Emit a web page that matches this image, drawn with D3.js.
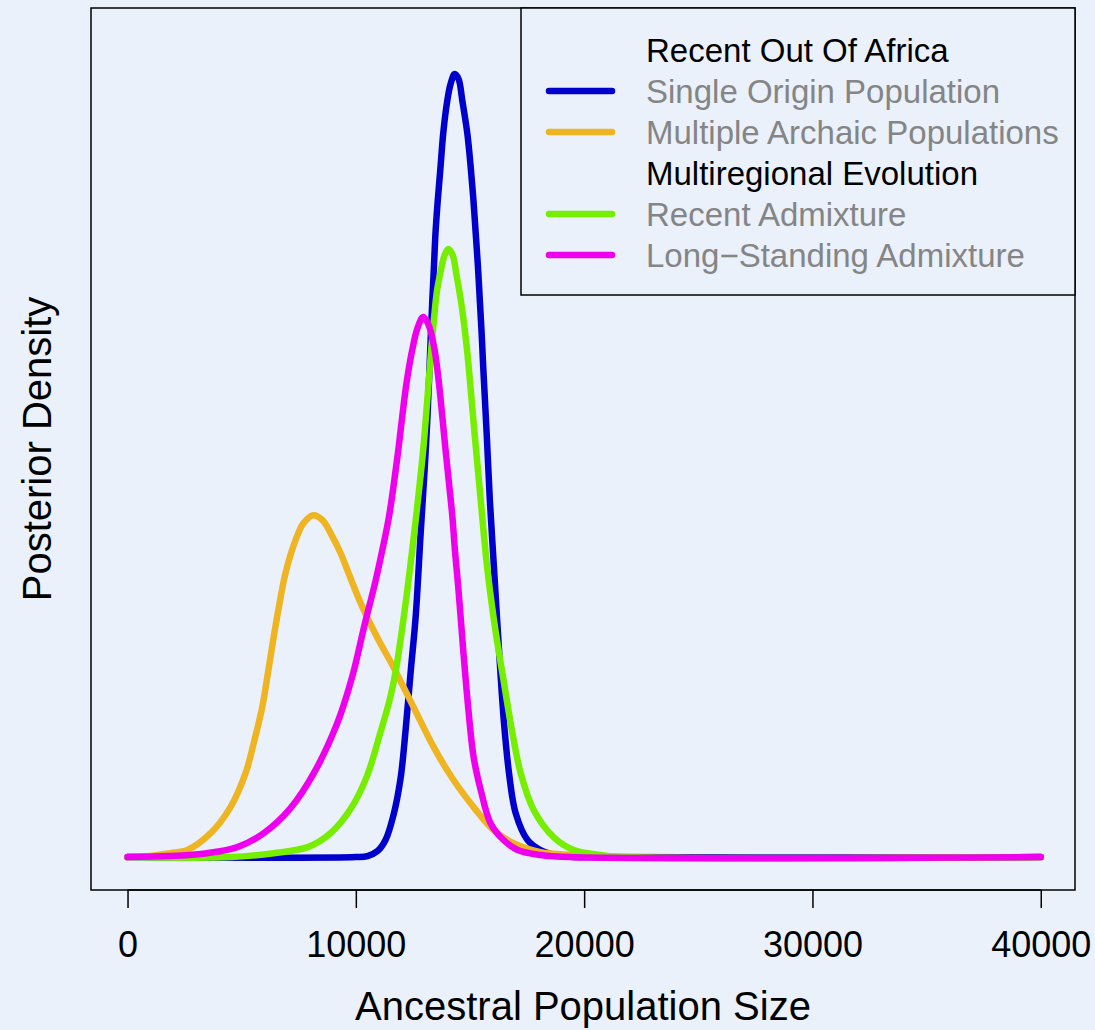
<!DOCTYPE html>
<html>

<head>
    <meta charset="utf-8">
    <script src="https://d3js.org/d3.v7.min.js"></script>
    <style>
        body { margin: 0; background: #eaf1fa; }
        text { font-family: "Liberation Sans", Arial, Helvetica, sans-serif; }
    </style>
</head>

<body>
</body>

<script>
    // posterior density curves, density values in units of 1e-4
    let singleOrigin = [[0,0],[10000,0],[10510,0.004],[10950,0.023],[11300,0.065],[11650,0.16],[11960,0.3],
        [12180,0.483],[12400,0.703],[12620,0.913],[12840,1.232],[13020,1.483],[13140,1.681],[13250,1.909],
        [13350,2.118],[13420,2.243],[13490,2.373],[13590,2.498],[13710,2.624],[13830,2.753],[14010,2.878],
        [14150,2.939],[14330,2.977],[14500,2.958],[14660,2.878],[14880,2.753],[15030,2.624],[15150,2.498],
        [15250,2.373],[15350,2.243],[15430,2.118],[15510,1.992],[15580,1.863],[15730,1.612],[15870,1.357],
        [16030,1.129],[16190,0.901],[16340,0.692],[16490,0.51],[16710,0.319],[17000,0.167],[17520,0.065],
        [18090,0.027],[18970,0.004],[20720,0],[40000,0]];

    let multipleArchaic = [[0,0],[1010,0.004],[1880,0.015],[2620,0.027],[3640,0.091],[4510,0.19],[5170,0.319],
        [5560,0.445],[5900,0.57],[6150,0.7],[6380,0.825],[6630,0.951],[6920,1.08],[7360,1.205],[7710,1.27],
        [8140,1.3],[8540,1.281],[8940,1.224],[9330,1.156],[9680,1.08],[10250,0.958],[10950,0.833],
        [11650,0.722],[12530,0.57],[13410,0.418],[14280,0.293],[15160,0.19],[16030,0.103],[16910,0.053],
        [18090,0.019],[19540,0.008],[21160,0],[40000,0]];

    let recentAdmixture = [[0,0],[4510,0],[6400,0.015],[7890,0.038],[8890,0.091],[9770,0.183],[10470,0.304],
        [11080,0.475],[11480,0.597],[11740,0.703],[12100,0.913],[12470,1.167],[12720,1.357],[12950,1.548],
        [13130,1.738],[13300,1.928],[13430,2.053],[13560,2.156],[13710,2.224],[13890,2.289],[14050,2.312],
        [14240,2.289],[14410,2.213],[14650,2.087],[14870,1.928],[15200,1.612],[15470,1.357],[15750,1.103],
        [16030,0.913],[16250,0.787],[16470,0.673],[16780,0.51],[17220,0.319],[17790,0.179],[18660,0.076],
        [19540,0.027],[20720,0.008],[21600,0],[40000,0]];

    let longStanding = [[0,0],[1880,0.004],[3490,0.015],[4810,0.038],[5970,0.091],[7140,0.186],[8160,0.319],
        [9190,0.51],[9860,0.692],[10380,0.882],[10820,1.034],[11160,1.167],[11450,1.293],[11670,1.422],
        [11860,1.548],[12030,1.673],[12220,1.802],[12470,1.928],[12700,2.011],[12950,2.053],[13190,2.023],
        [13450,1.928],[13640,1.802],[13790,1.673],[13930,1.548],[14080,1.422],[14230,1.293],[14340,1.167],
        [14470,1.042],[14590,0.913],[14740,0.749],[14920,0.57],[15160,0.38],[15470,0.255],[15900,0.129],
        [16470,0.065],[17090,0.027],[18090,0.008],[19410,0],[40000,0]];

    let xTicks = [0, 10000, 20000, 30000, 40000];

    let seriesNames = ["Single Origin Population", "Multiple Archaic Populations", "Recent Admixture", "Long\u2212Standing Admixture"];
    let seriesColors = ["#0000cd", "#eeb422", "#76ee00", "#ee00ee"];
    let seriesData = [singleOrigin, multipleArchaic, recentAdmixture, longStanding];

    // legend rows: heading rows have no line
    let legendRows = [
        {label: "Recent Out Of Africa", heading: true},
        {label: seriesNames[0], color: seriesColors[0]},
        {label: seriesNames[1], color: seriesColors[1]},
        {label: "Multiregional Evolution", heading: true},
        {label: seriesNames[2], color: seriesColors[2]},
        {label: seriesNames[3], color: seriesColors[3]}
    ];

    let width = 1095,
        height = 1030;
    let plot = {left: 91, right: 1075, top: 8, bottom: 890};

    let svg = d3.select("body")
        .append("svg")
            .attr("width", width)
            .attr("height", height);

    svg.append("rect")
        .attr("width", width)
        .attr("height", height)
        .attr("fill", "#eaf1fa");

    let x = d3.scaleLinear()
        .domain([-1600, 41500])
        .range([plot.left, plot.right]);

    let y = d3.scaleLinear()
        .domain([-0.125, 3.228])
        .range([plot.bottom, plot.top]);

    let line = d3.line()
        .x(d => x(d[0]))
        .y(d => y(d[1]))
        .curve(d3.curveCatmullRom.alpha(0.5));

    svg.append("g")
        .selectAll("path")
        .data(seriesData)
        .join("path")
            .attr("d", d => line(d))
            .attr("fill", "none")
            .attr("stroke", (d, i) => seriesColors[i])
            .attr("stroke-width", 6.5)
            .attr("stroke-linecap", "round")
            .attr("stroke-linejoin", "round");

    // box
    svg.append("rect")
        .attr("x", plot.left)
        .attr("y", plot.top)
        .attr("width", plot.right - plot.left)
        .attr("height", plot.bottom - plot.top)
        .attr("fill", "none")
        .attr("stroke", "black")
        .attr("stroke-width", 1.5);

    // x axis
    let xAxis = d3.axisBottom(x)
        .tickValues(xTicks)
        .tickFormat(d3.format("d"))
        .tickSizeInner(18)
        .tickSizeOuter(0)
        .tickPadding(23);

    let gx = svg.append("g")
        .attr("transform", `translate(0,${plot.bottom})`)
        .call(xAxis);
    gx.select(".domain")
        .attr("d", `M${x(0)},0H${x(40000)}`)
        .attr("stroke-width", 1.5);
    gx.selectAll(".tick line").attr("stroke-width", 1.5);
    gx.selectAll(".tick text")
        .attr("font-size", 36)
        .attr("font-family", "Liberation Sans, Arial, sans-serif")
        .attr("fill", "black");

    // axis titles
    svg.append("text")
        .attr("x", (plot.left + plot.right) / 2)
        .attr("y", 1020)
        .attr("text-anchor", "middle")
        .attr("font-size", 40)
        .text("Ancestral Population Size");

    svg.append("text")
        .attr("transform", `translate(51,${(plot.top + plot.bottom) / 2}) rotate(-90)`)
        .attr("text-anchor", "middle")
        .attr("font-size", 40)
        .text("Posterior Density");

    // legend
    let legend = svg.append("g");
    legend.append("rect")
        .attr("x", 521)
        .attr("y", plot.top)
        .attr("width", plot.right - 521)
        .attr("height", 295 - plot.top)
        .attr("fill", "#eaf1fa")
        .attr("stroke", "black")
        .attr("stroke-width", 1.5);

    let rowY = d3.scalePoint()
        .domain(d3.range(legendRows.length))
        .range([50, 255]);

    let rows = legend.selectAll("g.row")
        .data(legendRows)
        .join("g")
            .attr("class", "row")
            .attr("transform", (d, i) => `translate(0,${rowY(i)})`);

    rows.filter(d => !d.heading)
        .append("line")
            .attr("x1", 549)
            .attr("x2", 612)
            .attr("stroke", d => d.color)
            .attr("stroke-width", 6.5)
            .attr("stroke-linecap", "round");

    rows.append("text")
        .attr("x", 646)
        .attr("dy", "0.35em")
        .attr("font-size", 33)
        .attr("fill", d => d.heading ? "black" : "#858585")
        .text(d => d.label);

</script>

</html>
